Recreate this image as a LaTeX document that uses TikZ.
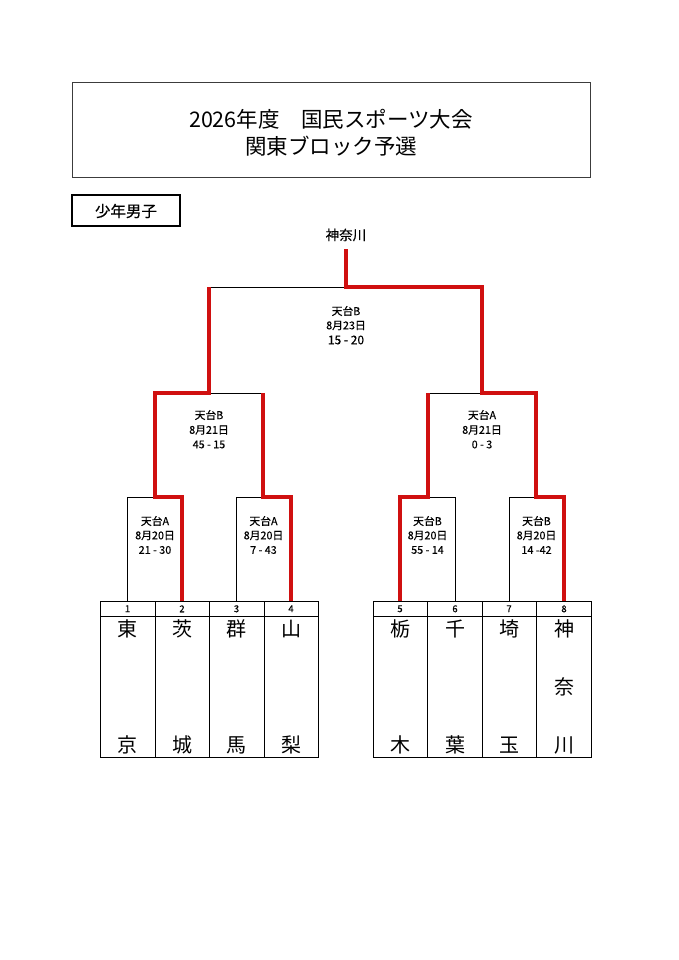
\documentclass[tikz,border=0pt]{standalone}
\usepackage{fontspec}
\setmainfont{Noto Sans CJK JP}
\newfontfamily\gothb[FakeBold=0.35]{Noto Sans CJK JP}
\definecolor{winred}{RGB}{208,16,16}
\definecolor{boxgray}{RGB}{60,60,60}
\begin{document}
\begin{tikzpicture}[x=1pt,y=-1pt,
  lbl/.style={font=\gothb\fontsize{10.8}{12}\selectfont, inner sep=0pt},
  num/.style={font=\gothb\fontsize{9.5}{10}\selectfont, inner sep=0pt},
  team/.style={font=\fontsize{20}{22}\selectfont, inner sep=0pt},
  lost/.style={draw=black, line width=0.8pt},
  won/.style={draw=winred, line width=3.2pt, line join=miter},
  cell/.style={draw=black, line width=1pt}]
\useasboundingbox (0,0) rectangle (678,960);
% title
\draw[boxgray, line width=1pt] (72,83) rectangle (590,178);
\node[font=\fontsize{21.5}{24}\selectfont, inner sep=0pt] (t1) at (331,119) {2026年度　国民スポーツ大会};
\node[font=\fontsize{21.5}{24}\selectfont, inner sep=0pt] (t2) at (331,146) {関東ブロック予選};
% category
\draw[black, line width=1.8pt] (72,195) rectangle (180,226);
\node[font=\gothb\fontsize{15.5}{17}\selectfont, inner sep=0pt] (cat) at (126,211) {少年男子};
% champion
\node[font=\gothb\fontsize{13.5}{15}\selectfont, inner sep=0pt] (champ) at (346,235) {神奈川};
% coordinates
\coordinate (top) at (346,249);
\coordinate (fc) at (346,287);
\coordinate (fl) at (209,287);
\coordinate (fr) at (482,287);
\coordinate (sl) at (209,393);
\coordinate (sla) at (155,393);
\coordinate (slb) at (263,393);
\coordinate (sr) at (482,393);
\coordinate (sra) at (428,393);
\coordinate (srb) at (536,393);
\coordinate (q1) at (155,497);
\coordinate (q1a) at (127.5,497);
\coordinate (q1b) at (182,497);
\coordinate (q2) at (263,497);
\coordinate (q2a) at (236.5,497);
\coordinate (q2b) at (291,497);
\coordinate (q3) at (428,497);
\coordinate (q3a) at (400,497);
\coordinate (q3b) at (455,497);
\coordinate (q4) at (536,497);
\coordinate (q4a) at (509,497);
\coordinate (q4b) at (564,497);
\coordinate (p1) at (127.5,601.5);
\coordinate (p2) at (182,601.5);
\coordinate (p3) at (236.5,601.5);
\coordinate (p4) at (291,601.5);
\coordinate (p5) at (400,601.5);
\coordinate (p6) at (455,601.5);
\coordinate (p7) at (509,601.5);
\coordinate (p8) at (564,601.5);
% lost lines
\draw[lost] (fl) -- (fc);
\draw[lost] (sl) -- (slb);
\draw[lost] (sra) -- (sr);
\draw[lost] (p1) -- (q1a) -- (q1);
\draw[lost] (p3) -- (q2a) -- (q2);
\draw[lost] (q3) -- (q3b) -- (p6);
\draw[lost] (p7) -- (q4a) -- (q4);
% won lines
\draw[won] (top) -- (fc) -- (fr) -- (sr) -- (srb) -- (q4) -- (q4b) -- (p8);
\draw[won] (fl) -- (sl) -- (sla) -- (q1) -- (q1b) -- (p2);
\draw[won] (slb) -- (q2) -- (q2b) -- (p4);
\draw[won] (sra) -- (q3) -- (q3a) -- (p5);
% match labels
\node[lbl] (m7a) at (346,311) {天台B};
\node[lbl] (m7b) at (346,325.5) {8月23日};
\node[lbl, font=\gothb\fontsize{12}{13}\selectfont] (m7c) at (346,340) {15 - 20};
\node[lbl] (m5a) at (209,415) {天台B};
\node[lbl] (m5b) at (209,430) {8月21日};
\node[lbl] (m5c) at (209,444.5) {45 - 15};
\node[lbl] (m6a) at (482,415) {天台A};
\node[lbl] (m6b) at (482,430) {8月21日};
\node[lbl] (m6c) at (482,444.5) {0 - 3};
\node[lbl] (m1a) at (155,521) {天台A};
\node[lbl] (m1b) at (155,535.5) {8月20日};
\node[lbl] (m1c) at (155,550) {21 - 30};
\node[lbl] (m2a) at (263.5,521) {天台A};
\node[lbl] (m2b) at (263.5,535.5) {8月20日};
\node[lbl] (m2c) at (263.5,550) {7 - 43};
\node[lbl] (m3a) at (427.5,521) {天台B};
\node[lbl] (m3b) at (427.5,535.5) {8月20日};
\node[lbl] (m3c) at (427.5,550) {55 - 14};
\node[lbl] (m4a) at (536.5,521) {天台B};
\node[lbl] (m4b) at (536.5,535.5) {8月20日};
\node[lbl] (m4c) at (536.5,550) {14 -42};
% tables
\foreach \xa/\xb in {100/155,155/209.5,209.5/264,264/318.5,373/427.5,427.5/482,482/536.5,536.5/591}{
  \draw[cell] (\xa,601.5) rectangle (\xb,616);
  \draw[cell] (\xa,616) rectangle (\xb,757);
}
% numbers
\node[num] (n1) at (127.5,608.8) {1};
\node[num] (n2) at (182,608.8) {2};
\node[num] (n3) at (236.5,608.8) {3};
\node[num] (n4) at (291,608.8) {4};
\node[num] (n5) at (400,608.8) {5};
\node[num] (n6) at (455,608.8) {6};
\node[num] (n7) at (509,608.8) {7};
\node[num] (n8) at (564,608.8) {8};
% teams
\node[team] (a1) at (127.5,629) {東};
\node[team] (b1) at (127.5,745) {京};
\node[team] (a2) at (182,629) {茨};
\node[team] (b2) at (182,745) {城};
\node[team] (a3) at (236.5,629) {群};
\node[team] (b3) at (236.5,745) {馬};
\node[team] (a4) at (291,629) {山};
\node[team] (b4) at (291,745) {梨};
\node[team] (a5) at (400,629) {栃};
\node[team] (b5) at (400,745) {木};
\node[team] (a6) at (455,629) {千};
\node[team] (b6) at (455,745) {葉};
\node[team] (a7) at (509,629) {埼};
\node[team] (b7) at (509,745) {玉};
\node[team] (a8) at (564,629) {神};
\node[team] (c8) at (564,687) {奈};
\node[team] (b8) at (564,745) {川};
\end{tikzpicture}
\end{document}
